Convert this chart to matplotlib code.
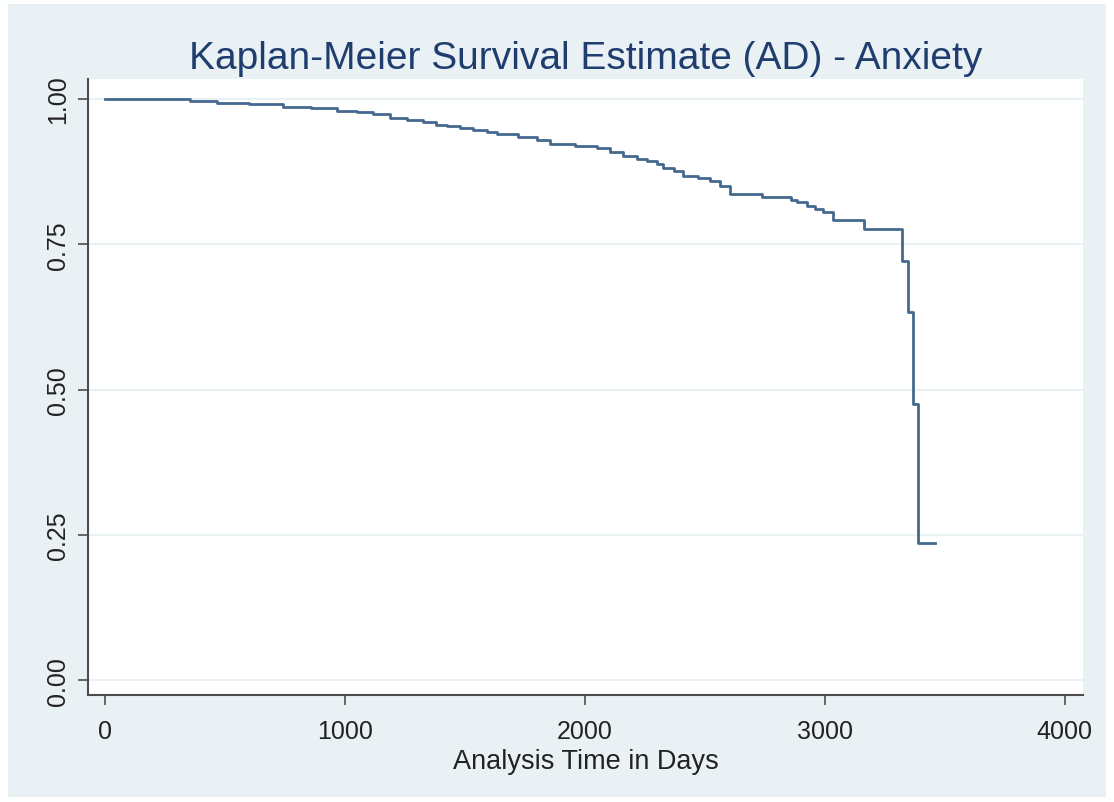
import matplotlib.pyplot as plt
from matplotlib.patches import Rectangle

# Kaplan-Meier estimate (time in days, survival after the step)
step_days = [0, 354, 467, 600, 742, 860, 967, 1050, 1117, 1188, 1260, 1325, 1380, 1425,
             1480, 1533, 1590, 1633, 1720, 1800, 1854, 1960, 2050, 2104, 2158, 2217,
             2260, 2300, 2325, 2370, 2408, 2470, 2521, 2563, 2604, 2738, 2860, 2883,
             2925, 2960, 2992, 3033, 3163, 3321, 3346, 3367, 3388, 3458]
survival = [1.0, 0.997, 0.994, 0.991, 0.987, 0.984, 0.980, 0.977, 0.974, 0.968, 0.964,
            0.960, 0.956, 0.953, 0.950, 0.946, 0.943, 0.939, 0.935, 0.930, 0.922, 0.919,
            0.916, 0.909, 0.902, 0.897, 0.893, 0.889, 0.882, 0.876, 0.868, 0.864, 0.859,
            0.850, 0.836, 0.831, 0.827, 0.822, 0.816, 0.811, 0.805, 0.792, 0.776, 0.721,
            0.633, 0.476, 0.236, 0.236]

x_ticks = [0, 1000, 2000, 3000, 4000]
y_ticks = [0.0, 0.25, 0.5, 0.75, 1.0]
y_labels = ['0.00', '0.25', '0.50', '0.75', '1.00']

plt.rcParams['font.family'] = ['Liberation Sans', 'DejaVu Sans']

bg = '#eaf1f4'
line_col = '#45698f'
axis_col = '#4d4d4d'

fig = plt.figure(figsize=(11.14, 8.03), dpi=100, facecolor='white')
fig.patches.append(Rectangle((0.007, 0.006), 0.986, 0.988, transform=fig.transFigure,
                             facecolor=bg, edgecolor='none', zorder=-10))

ax = fig.add_axes([0.079, 0.133, 0.893, 0.767])
ax.set_facecolor('white')

for y in y_ticks:
    ax.axhline(y, color=bg, lw=1.5, zorder=1)

ax.step(step_days, survival, where='post', color=line_col, lw=2.0, zorder=3)

ax.set_xlim(-71, 4075)
ax.set_ylim(-0.026, 1.034)
ax.set_xticks(x_ticks)
ax.set_yticks(y_ticks)
ax.set_yticklabels(y_labels, rotation=90, va='center')

for side in ['top', 'right']:
    ax.spines[side].set_visible(False)
for side in ['left', 'bottom']:
    ax.spines[side].set_color(axis_col)
    ax.spines[side].set_linewidth(1.5)

ax.tick_params(axis='both', direction='out', length=7, width=1.2, color=axis_col,
               labelsize=18, labelcolor='#222222')
ax.tick_params(axis='y', pad=6)
ax.tick_params(axis='x', pad=10)

ax.set_xlabel('Analysis Time in Days', fontsize=19.5, color='#222222', labelpad=4)
ax.set_title('Kaplan-Meier Survival Estimate (AD) - Anxiety', fontsize=28,
             color='#1f3d6e', pad=8)

fig.savefig('out.png', dpi=100, facecolor=fig.get_facecolor())
